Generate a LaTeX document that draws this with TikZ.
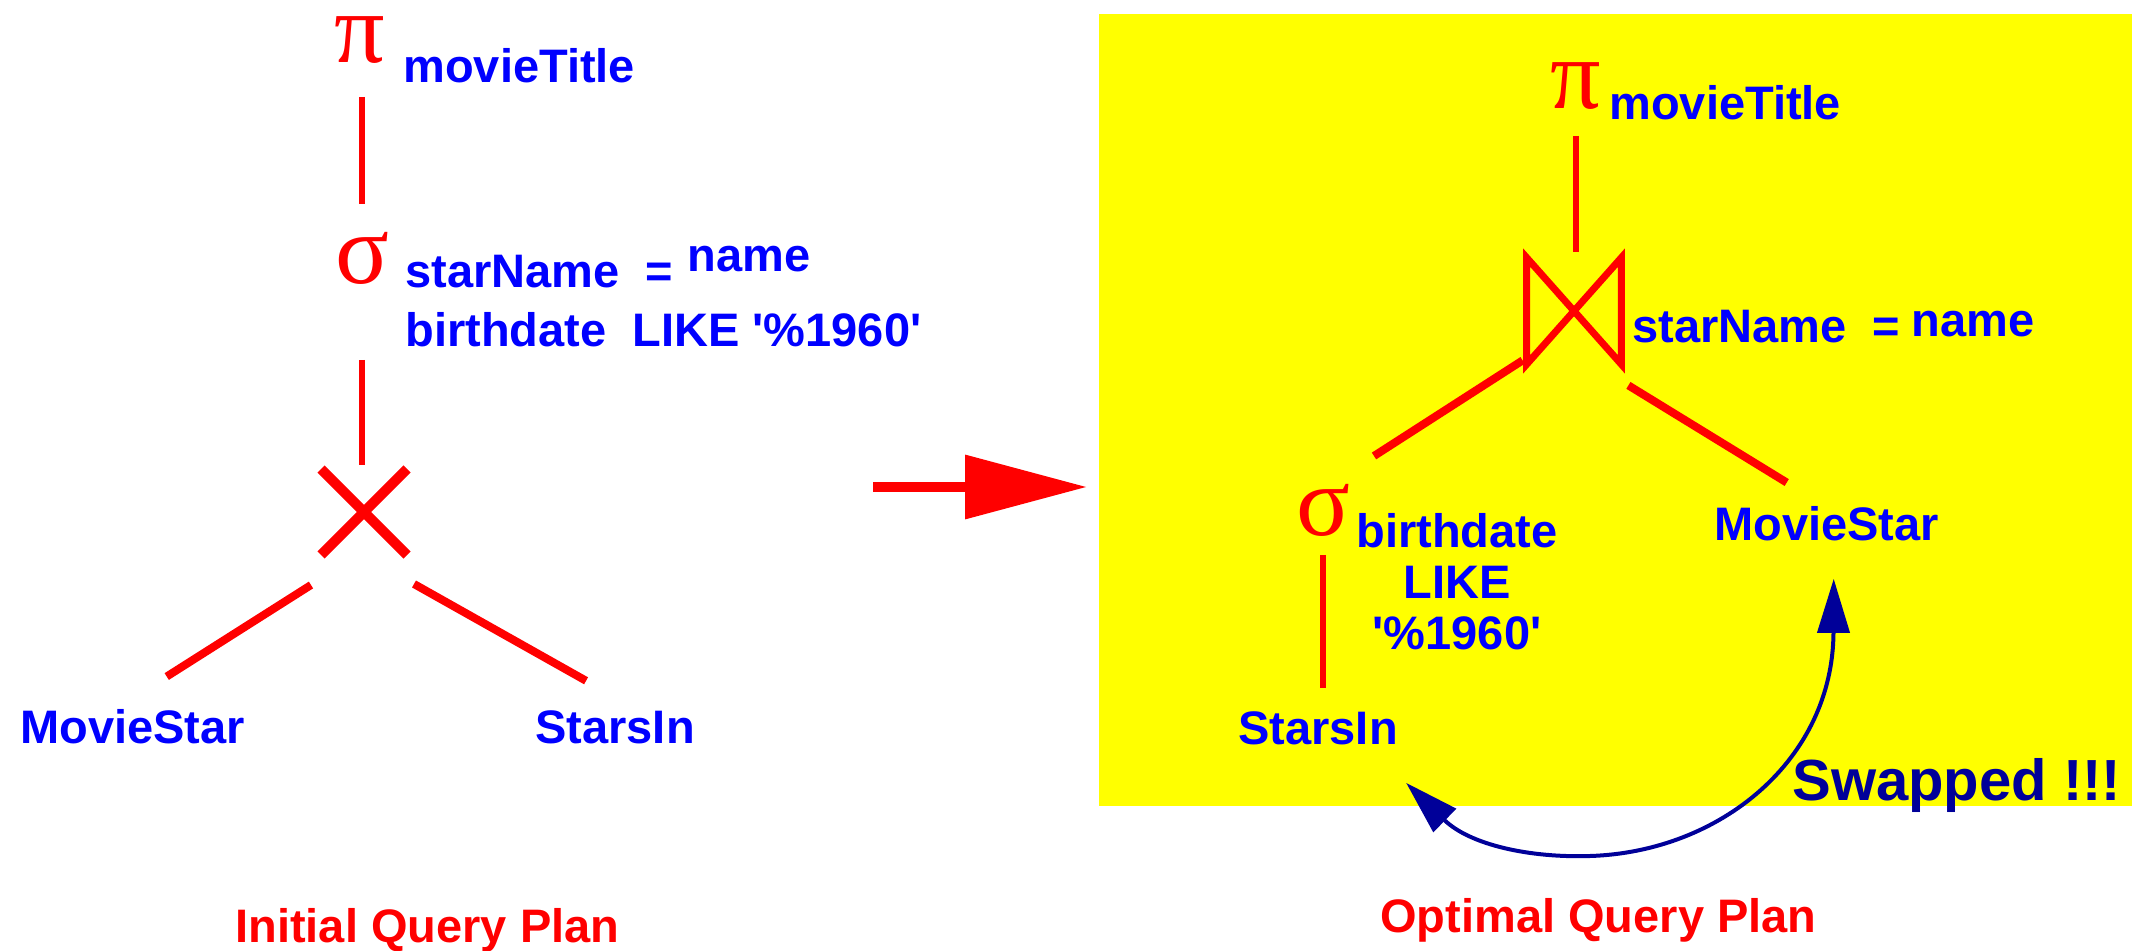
\documentclass[tikz,border=0pt]{standalone}
\usepackage{fontspec}
\setmainfont{Liberation Sans}
\newfontfamily\greekfont{Liberation Serif}
\usetikzlibrary{arrows.meta,shapes.misc,calc}
\definecolor{qblue}{RGB}{0,0,255}
\definecolor{qred}{RGB}{255,0,0}
\definecolor{qnavy}{RGB}{0,0,153}
\definecolor{qyellow}{RGB}{255,255,0}
\begin{document}
\begin{tikzpicture}[x=0.5pt,y=-0.5pt,
  lbl/.style={inner sep=0pt, anchor=base west, text=qblue, font=\bfseries\fontsize{23.5}{28}\selectfont},
  plantitle/.style={lbl, text=qred},
  greek/.style={inner sep=0pt, anchor=center, text=qred, font=\greekfont\fontsize{50}{56}\selectfont},
  edge/.style={draw=qred, line width=3pt},
  branch/.style={draw=qred, line width=4pt},
]
\useasboundingbox (0,0) rectangle (2132,951);
\fill[qyellow] (1099,14) rectangle (2132,806);

% ---- initial plan ----
\node[greek] (pi1) at (360,40) {π};
\node[lbl] (mt1) at (403,83) {movieTitle};
\node[greek] (sig1) at (362,258) {σ};
\node[lbl] (sn1) at (405,288) {starName~~=};
\node[lbl] (nm1) at (687,272) {name};
\node[lbl] (bd1) at (405,347) {birthdate~~LIKE~\textquotesingle\%1960\textquotesingle};
\node[cross out, draw=qred, line width=5pt, minimum size=38pt, inner sep=0pt] (x1) at (364,512) {};
\node[lbl] (ms1) at (20,744) {MovieStar};
\node[lbl] (si1) at (535,744) {StarsIn};
\node[plantitle] (iqp) at (235,942) {Initial Query Plan};

\draw[edge, shorten <=28.5pt, shorten >=27pt] (sig1.center |- pi1.center) -- (sig1.center);
\draw[edge, shorten <=51pt, shorten >=23.5pt] (sig1.center) -- (sig1.center |- x1.center);
\draw[branch] ([shift={(-10,30)}]x1.south west) -- ([shift={(34,-33)}]ms1.north);
\draw[branch] ([shift={(7,29)}]x1.south east) -- ([shift={(-29,-30)}]si1.north);

% ---- transformation arrow ----
\coordinate (ra1) at (873,487);
\coordinate (ra2) at (1087,487);
\draw[qred, line width=5pt, -{Triangle[length=61pt,width=31pt]}] (ra1) -- (ra2);

% ---- optimal plan ----
\node[greek] (pi2) at (1576,86) {π};
\node[lbl] (mt2) at (1609,120) {movieTitle};
\node[minimum width=47pt, minimum height=53pt, inner sep=0pt] (bt) at (1574,311) {};
\draw[draw=qred, line width=3.5pt, line join=miter] (bt.north west) -- (bt.south east) -- (bt.north east) -- (bt.south west) -- cycle;
\node[lbl] (sn2) at (1632,343) {starName~~=};
\node[lbl] (nm2) at (1911,337) {name};
\node[lbl] (ms2) at (1714,541) {MovieStar};
\node[greek] (sig2) at (1323,510) {σ};
\node[lbl, anchor=north, align=center, font=\bfseries\fontsize{23.5}{25.5}\selectfont] (bd2) at (1457,513) {birthdate\\LIKE\\\textquotesingle\%1960\textquotesingle};
\node[lbl] (si2) at (1238,745) {StarsIn};
\node[lbl, text=qnavy, font=\bfseries\fontsize{29}{34}\selectfont] (swp) at (1792,800) {Swapped !!!};
\node[plantitle] (oqp) at (1380,932) {Optimal Query Plan};

\draw[edge, shorten <=25pt, shorten >=3pt] (pi2.center) -- (pi2.center |- bt.north);
\draw[branch] ([shift={(-4,-4)}]bt.south west) -- ([shift={(51,-54)}]sig2.center);
\draw[branch] ([shift={(7,21)}]bt.south east) -- ([shift={(-40,-24)}]ms2.north);
\draw[edge, shorten <=22.5pt, shorten >=12pt] (sig2.center) -- (sig2.center |- si2.north);

\draw[qnavy, line width=2pt, {Triangle[length=27pt,width=16pt]}-{Triangle[length=27pt,width=16pt]}]
  ([shift={(8,37)}]si2.south east) .. controls (1470,845) and (1530,858) .. (1590,856)
  .. controls (1720,852) and (1833,760) .. ([shift={(7,37)}]ms2.south);
\end{tikzpicture}
\end{document}
